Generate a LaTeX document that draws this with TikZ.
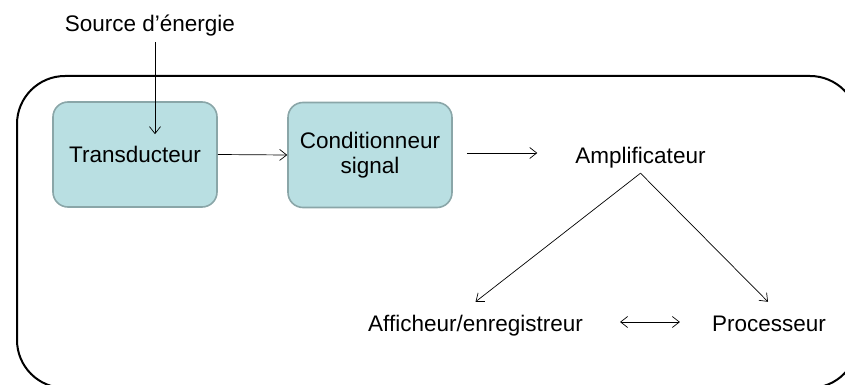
\documentclass[tikz,border=0pt]{standalone}
\usepackage{fontspec}
\setmainfont{Liberation Sans}
\usetikzlibrary{arrows.meta}
\definecolor{boxfill}{RGB}{185,223,226}
\definecolor{boxline}{RGB}{138,166,168}
\begin{document}
\begin{tikzpicture}[x=1pt,y=-1pt,
  every node/.style={font=\fontsize{22.5}{25}\selectfont},
  lbl/.style={inner sep=0pt, text height=16pt, text depth=5pt},
  stage/.style={draw=boxline, line width=1.6pt, fill=boxfill, rounded corners=15pt,
    minimum width=164pt, minimum height=105pt, align=center, inner sep=0pt},
  frame/.style={draw=black, line width=2pt, rounded corners=48pt},
  arr/.style={draw=black, line width=0.7pt, -{Straight Barb[length=7pt,width=11pt]}},
  darr/.style={draw=black, line width=0.7pt, {Straight Barb[length=7pt,width=11pt]}-{Straight Barb[length=7pt,width=11pt]}}]
  \useasboundingbox (0,0) rectangle (845,385);
  \clip (0,0) rectangle (845,385);

  % outer system frame (runs past the right and bottom edges)
  \draw[frame] (17,76) rectangle (858,388);

  % blocks and labels
  \node[lbl] (src) at (150,26.5) {Source d’énergie};
  \node[stage] (trans) at (135,154.5) {\raisebox{-3pt}{Transducteur}};
  \node[stage] (cond) at (370,155) {Conditionneur\\signal};
  \node[lbl] (amp) at (640.5,157.5) {Amplificateur};
  \node[lbl] (aff) at (475.5,325.5) {Afficheur/enregistreur};
  \node[lbl] (proc) at (769,325.5) {Processeur};

  % helper points for free arrow ends (yshift is measured upwards)
  \coordinate (feed) at ([xshift=20pt,yshift=-33pt]trans.north);
  \coordinate (apex) at ([yshift=-5pt]amp.south);

  % connectors
  \draw[arr] ([xshift=5pt,yshift=-5pt]src.south) -- (feed);
  \draw[arr] (trans.east) -- (cond.west);
  \draw[arr] ([xshift=14pt,yshift=2pt]cond.east) -- ([xshift=-38pt,yshift=4.5pt]amp.west);
  \draw[arr] (apex) -- ([yshift=13pt]aff.north);
  \draw[arr] (apex) -- ([xshift=-1pt,yshift=13pt]proc.north);
  \draw[darr] ([xshift=37pt,yshift=3.5pt]aff.east) -- ([xshift=-32pt,yshift=3.5pt]proc.west);
\end{tikzpicture}
\end{document}
